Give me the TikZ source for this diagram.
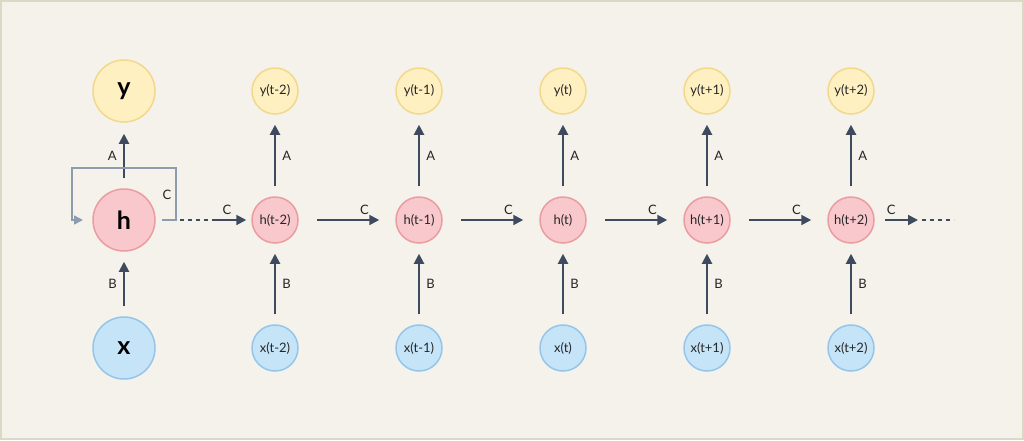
\documentclass[tikz,border=0pt]{standalone}
\usepackage{fontspec}
\setmainfont{Lato}
\usetikzlibrary{arrows.meta}

\definecolor{frameline}{HTML}{DDD8C3}
\definecolor{paper}{HTML}{F5F2EB}
\definecolor{outfill}{HTML}{FFF0C2}
\definecolor{outline}{HTML}{F3D88C}
\definecolor{hidfill}{HTML}{F8C8CC}
\definecolor{hidline}{HTML}{EB9CA1}
\definecolor{infill}{HTML}{C5E4F8}
\definecolor{inline}{HTML}{95C5EA}
\definecolor{wire}{HTML}{3E4B5F}
\definecolor{loopwire}{HTML}{8E9CB0}

\tikzset{
  unit/.style={circle, line width=1.5pt, minimum size=46pt, inner sep=0pt, font=\fontsize{13}{13}\selectfont, text=black!85},
  bigunit/.style={unit, minimum size=62pt, font=\fontsize{25}{25}\selectfont\bfseries, text=black},
  outunit/.style={fill=outfill, draw=outline},
  hidunit/.style={fill=hidfill, draw=hidline},
  inunit/.style={fill=infill, draw=inline},
  flow/.style={-{Triangle[length=10pt,width=10pt]}, line width=2pt, draw=wire},
  lbl/.style={font=\fontsize{13}{13}\selectfont, text=black!85}
}

\begin{document}
\begin{tikzpicture}[x=1pt,y=-1pt]
    % frame
    \fill[frameline] (0,0) rectangle (1024,440);
    \fill[paper] (2,2) rectangle (1022,438);

    % folded network
    \node[bigunit,outunit] (y) at (124,91) {y};
    \node[bigunit,hidunit] (h) at (124,220) {h};
    \node[bigunit,inunit] (x) at (124,348) {x};

    \draw[flow, shorten <=10pt, shorten >=11pt] (h) -- (y)
      node[lbl, midway, left=3pt] {A};
    \draw[flow, shorten <=10pt, shorten >=10pt] (x) -- (h)
      node[lbl, midway, left=3pt] {B};

    % recurrent loop
    \draw[loopwire, line width=1.5pt, -{Triangle[length=9pt,width=9pt]}]
      (162,220) -| (176,168) -| (72,220) -- (83,220);
    \node[lbl] (cl) at (167,195) {C};

    % unrolled network
    \foreach \i/\t [count=\k] in {t-2/-2,t-1/-1,t/0,t+1/+1,t+2/+2} {
      \node[unit,outunit] (y\k) at (131+144*\k,91) {y(\i)};
      \node[unit,hidunit] (h\k) at (131+144*\k,220) {h(\i)};
      \node[unit,inunit]  (x\k) at (131+144*\k,348) {x(\i)};
      \draw[flow, shorten <=10pt, shorten >=10pt] (h\k) -- (y\k)
        node[lbl, midway, right=3pt] {A};
      \draw[flow, shorten <=10pt, shorten >=10pt] (x\k) -- (h\k)
        node[lbl, midway, right=3pt] {B};
    }
    \foreach \k [evaluate=\k as \n using int(\k+1)] in {1,...,4} {
      \draw[flow, shorten <=18pt, shorten >=16pt] (h\k) -- (h\n)
        node[lbl, pos=0.68, above=1pt] {C};
    }

    % ends of the chain
    \coordinate (in0) at (180,220);
    \coordinate (in1) at (214,220);
    \draw[wire, line width=2pt, dash pattern=on 4pt off 4pt] (in0) -- (in1);
    \draw[flow, shorten >=5pt] (in1) -- (h1)
      node[lbl, pos=0.35, above=1pt] {C};
    \coordinate (out1) at (918,220);
    \coordinate (out2) at (954,220);
    \draw[flow, shorten <=10pt] (h5) -- (out1)
      node[lbl, pos=0.38, above=1pt] {C};
    \draw[wire, line width=2pt, dash pattern=on 4pt off 4pt] (out1) ++(4,0) -- (out2);
\end{tikzpicture}
\end{document}
